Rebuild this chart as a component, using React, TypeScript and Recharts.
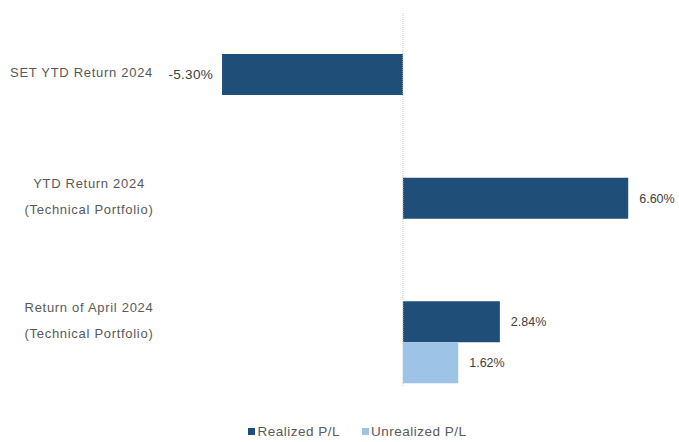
import React from "react";
import {
  BarChart,
  Bar,
  XAxis,
  YAxis,
  Legend,
  ReferenceLine,
  LabelList,
} from "recharts";

const categories = [
  "SET YTD Return 2024",
  "YTD Return 2024\n(Technical Portfolio)",
  "Return of April 2024\n(Technical Portfolio)",
];
const realized = [-5.3, 6.6, 2.84];
const unrealized: (number | null)[] = [null, null, 1.62];

const DARK = "#1F4E79";
const LIGHT = "#9DC3E6";
const TEXT = "#595959";
const FONT = "'Liberation Sans', Arial, sans-serif";

const data = categories.map((name, i) => ({
  name,
  realized: realized[i],
  unrealized: unrealized[i],
}));

function CategoryTick(props: any) {
  const { y, payload } = props;
  const lines = String(payload.value).split("\n");
  const cy = y - 22;
  if (lines.length === 1) {
    return (
      <text x={153} y={cy} dy="0.35em" textAnchor="end" fill={TEXT} fontSize={13} letterSpacing={0.7} fontFamily={FONT}>
        {lines[0]}
      </text>
    );
  }
  return (
    <g>
      {lines.map((l, i) => (
        <text
          key={i}
          x={89}
          y={cy + (i - (lines.length - 1) / 2) * 26}
          dy="0.35em"
          textAnchor="middle"
          fill={TEXT}
          fontSize={13}
          letterSpacing={0.7}
          fontFamily={FONT}
        >
          {l}
        </text>
      ))}
    </g>
  );
}

function ValueLabel(props: any) {
  const { x, y, width, height, value } = props;
  if (value == null) return null;
  const left = Math.min(x, x + width);
  const right = Math.max(x, x + width);
  const neg = value < 0;
  return (
    <text
      x={neg ? left - 9 : right + 11}
      y={y + height / 2}
      dy="0.35em"
      textAnchor={neg ? "end" : "start"}
      fill="#404040"
      fontSize={neg ? 13.5 : 12.5}
      letterSpacing={neg ? 0.3 : 0}
      fontFamily={FONT}
    >
      {value.toFixed(2) + "%"}
    </text>
  );
}

function LegendContent() {
  const items = [
    { label: "Realized P/L", color: DARK },
    { label: "Unrealized P/L", color: LIGHT },
  ];
  return (
    <div
      style={{
        display: "flex",
        justifyContent: "center",
        paddingLeft: 36,
        fontFamily: FONT,
        fontSize: 13.5,
        letterSpacing: 0.5,
        color: TEXT,
      }}
    >
      {items.map((it) => (
        <div key={it.label} style={{ display: "flex", alignItems: "center", margin: "0 11px" }}>
          <span style={{ width: 7, height: 7, background: it.color, marginRight: 2, display: "inline-block" }} />
          <span>{it.label}</span>
        </div>
      ))}
    </div>
  );
}

export default function App() {
  return (
    <div style={{ position: "absolute", left: 0, top: 0, background: "#fff" }}>
      <BarChart
        width={679}
        height={442}
        layout="vertical"
        data={data}
        barGap={0}
        barSize={41}
        margin={{ top: 12, right: 3, left: 0, bottom: 41 }}
      >
        <XAxis type="number" domain={[-7, 8]} hide />
        <YAxis
          type="category"
          dataKey="name"
          width={164}
          axisLine={false}
          tickLine={false}
          tick={<CategoryTick />}
          padding={{ top: 21, bottom: -18 }}
          interval={0}
        />
        <ReferenceLine x={0} stroke="#C8C8C8" strokeDasharray="1 1" />
        <Bar dataKey="realized" name="Realized P/L" fill={DARK} isAnimationActive={false}>
          <LabelList dataKey="realized" content={<ValueLabel />} />
        </Bar>
        <Bar dataKey="unrealized" name="Unrealized P/L" fill={LIGHT} isAnimationActive={false}>
          <LabelList dataKey="unrealized" content={<ValueLabel />} />
        </Bar>
        <Legend
          verticalAlign="bottom"
          content={<LegendContent />}
          wrapperStyle={{ left: 0, width: 679, bottom: 3 }}
        />
      </BarChart>
    </div>
  );
}
